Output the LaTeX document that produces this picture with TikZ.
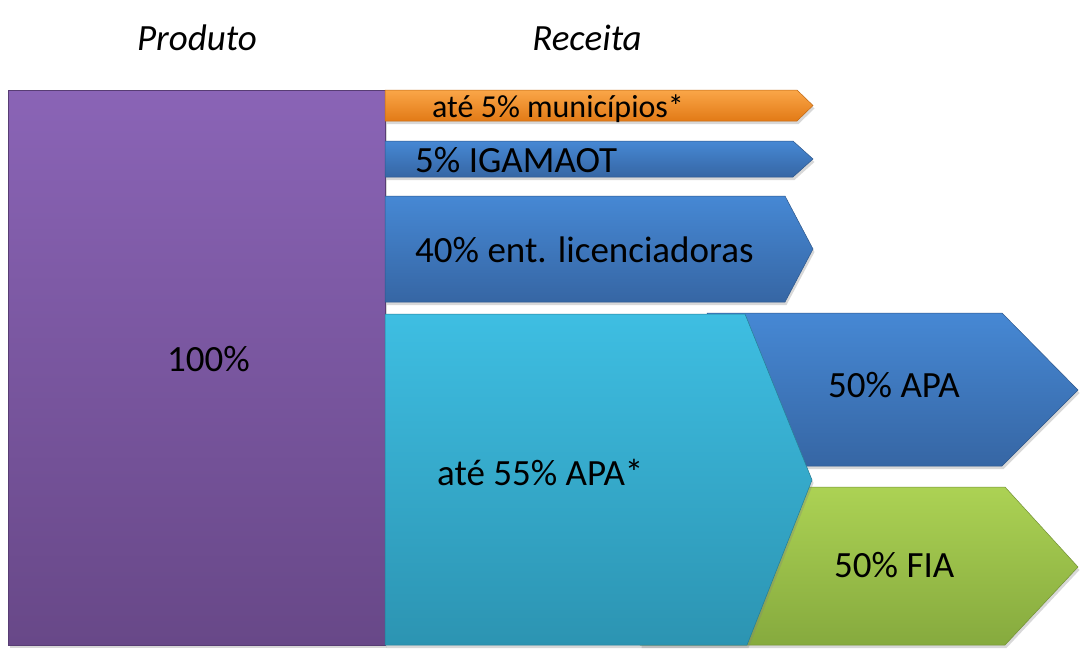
\documentclass[tikz,border=0pt]{standalone}
\usepackage{fontspec}
\setmainfont{Carlito}
\usetikzlibrary{calc,shadows}
\definecolor{roxoA}{RGB}{138,100,182}
\definecolor{roxoB}{RGB}{104,72,136}
\definecolor{laranjaA}{RGB}{250,166,72}
\definecolor{laranjaB}{RGB}{226,122,22}
\definecolor{azulA}{RGB}{70,136,212}
\definecolor{azulB}{RGB}{54,102,164}
\definecolor{cianoA}{RGB}{62,190,226}
\definecolor{cianoB}{RGB}{44,148,178}
\definecolor{verdeA}{RGB}{172,210,84}
\definecolor{verdeB}{RGB}{134,170,62}
\tikzset{
  bloco/.style={drop shadow={opacity=0.3,shadow xshift=1.5pt,shadow yshift=-3pt},line width=0.5pt},
  roxo/.style={bloco,top color=roxoA,bottom color=roxoB,draw=roxoB!85!black},
  laranja/.style={bloco,top color=laranjaA,bottom color=laranjaB,draw=laranjaB!85!black},
  azul/.style={bloco,top color=azulA,bottom color=azulB,draw=azulB!85!black},
  ciano/.style={bloco,top color=cianoA,bottom color=cianoB,draw=cianoB!85!black},
  verde/.style={bloco,top color=verdeA,bottom color=verdeB,draw=verdeB!85!black},
  rotulo/.style={font=\fontsize{37}{44}\selectfont,anchor=base west,inner sep=0pt},
  titulo/.style={font=\fontsize{37}{44}\selectfont\itshape,anchor=base,inner sep=0pt}
}
\begin{document}
\begin{tikzpicture}[x=1pt,y=-1pt]
\useasboundingbox[fill=white](0,0)rectangle(1088,659);
\node[titulo](produto)at(197,50){Produto};
\node[titulo](receita)at(587,50){Receita};
\path[roxo](8,90)rectangle(385,645);
\path[laranja](385,90)--(797,90)--(813,105.5)--(797,121)--(385,121)--cycle;
\path[azul](385,141)--(793,141)--(813,159)--(793,177)--(385,177)--cycle;
\path[azul](385,196)--(785,196)--(813,249)--(785,302)--(385,302)--cycle;
\path[azul](707,313)--(1002,313)--(1078,390)--(1002,466)--(707,466)--cycle;
\path[verde](640,487)--(1005,487)--(1078,567)--(1005,645)--(640,645)--cycle;
\path[ciano](385,314)--(745,314)--(812,480)--(747,645)--(385,645)--cycle;
\node[rotulo](cem)at(167,371){100\%};
\node[rotulo,font=\fontsize{32}{38}\selectfont](municipios)at(432,117){até 5\% municípios*};
\node[rotulo](igamaot)at(415,172){5\% IGAMAOT};
\node[rotulo](licenc)at(415,262){40\% ent. licenciadoras};
\node[rotulo](apa55)at(437,485){até 55\% APA*};
\node[rotulo](apa50)at(828,397){50\% APA};
\node[rotulo](fia)at(834,577){50\% FIA};
\end{tikzpicture}
\end{document}
